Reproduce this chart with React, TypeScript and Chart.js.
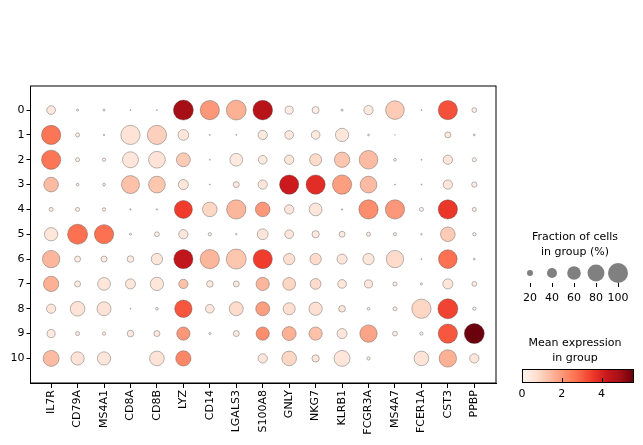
import React, { useEffect, useRef } from "react";
import { Chart, registerables } from "chart.js";

Chart.register(...registerables);

const genes = ["IL7R", "CD79A", "MS4A1", "CD8A", "CD8B", "LYZ", "CD14", "LGALS3", "S100A8", "GNLY", "NKG7", "KLRB1", "FCGR3A", "MS4A7", "FCER1A", "CST3", "PPBP"];
const clusters = ["0", "1", "2", "3", "4", "5", "6", "7", "8", "9", "10"];

// fraction of cells expressing (%), rows = clusters, columns = genes
const fractionPct: number[][] = [
  [33, 5, 5, 2, 2, 100, 95, 99, 98, 30, 25, 5, 36, 91, 2, 95, 15],
  [95, 12, 3, 95, 95, 44, 2, 2, 36, 33, 33, 58, 4, 1, 0, 20, 4],
  [95, 12, 9, 74, 79, 62, 2, 55, 33, 36, 51, 70, 91, 7, 2, 36, 12],
  [66, 7, 7, 87, 79, 40, 2, 20, 36, 95, 95, 95, 79, 2, 2, 36, 17],
  [12, 12, 9, 3, 3, 87, 66, 95, 66, 36, 55, 3, 95, 95, 12, 95, 12],
  [58, 100, 95, 5, 15, 36, 9, 3, 44, 33, 26, 20, 12, 9, 3, 66, 9],
  [83, 20, 20, 23, 47, 95, 95, 100, 95, 47, 47, 40, 47, 83, 2, 91, 4],
  [70, 20, 55, 40, 58, 36, 23, 20, 58, 55, 44, 33, 30, 12, 5, 40, 15],
  [36, 66, 62, 2, 7, 83, 33, 62, 62, 51, 58, 23, 7, 12, 95, 100, 9],
  [30, 12, 9, 23, 20, 58, 5, 20, 58, 62, 58, 40, 83, 15, 9, 95, 100],
  [74, 58, 58, 0, 66, 70, 0, 0, 36, 66, 26, 74, 9, 0, 66, 83, 36],
];

// mean expression in group
const meanExpr: number[][] = [
  [0.4, 0.1, 0.1, 0.1, 0.1, 4.9, 2.0, 1.6, 4.6, 0.3, 0.3, 0.2, 0.4, 1.1, 0.1, 3.2, 0.2],
  [2.6, 0.2, 0.2, 0.6, 1.0, 0.5, 0.1, 0.1, 0.4, 0.4, 0.4, 0.5, 0.3, 0.1, 0.0, 0.4, 0.3],
  [2.6, 0.2, 0.2, 0.5, 0.6, 1.1, 0.1, 0.4, 0.4, 0.5, 0.8, 1.2, 1.4, 0.2, 0.1, 0.5, 0.2],
  [1.4, 0.2, 0.2, 1.3, 1.2, 0.5, 0.1, 0.4, 0.5, 4.2, 3.8, 1.9, 1.4, 0.1, 0.1, 0.5, 0.3],
  [0.3, 0.2, 0.2, 0.1, 0.1, 3.5, 0.9, 1.5, 2.0, 0.5, 0.5, 0.2, 2.2, 2.0, 0.1, 3.6, 0.3],
  [0.5, 2.7, 2.7, 0.2, 0.2, 0.5, 0.2, 0.1, 0.5, 0.5, 0.4, 0.4, 0.3, 0.2, 0.1, 1.1, 0.2],
  [1.5, 0.3, 0.3, 0.3, 0.5, 4.4, 1.5, 1.2, 3.5, 0.7, 0.8, 0.5, 0.5, 0.8, 0.1, 2.7, 0.2],
  [1.6, 0.3, 0.5, 0.5, 0.5, 1.3, 0.4, 0.4, 1.5, 0.9, 0.8, 0.5, 0.5, 0.2, 0.2, 0.5, 0.3],
  [0.5, 0.6, 0.6, 0.1, 0.2, 3.1, 0.5, 0.8, 1.9, 0.7, 0.7, 0.5, 0.2, 0.2, 0.9, 3.4, 0.2],
  [0.4, 0.3, 0.3, 0.4, 0.4, 2.0, 0.2, 0.4, 2.2, 1.6, 1.3, 0.5, 1.8, 0.3, 0.3, 3.1, 5.6],
  [1.4, 0.6, 0.5, 0.0, 0.6, 2.3, 0.0, 0.0, 0.5, 0.9, 0.5, 0.5, 0.3, 0.0, 0.6, 1.6, 0.5],
];

const sizeLegendValues = [20, 40, 60, 80, 100];
const colorbarTicks = [0, 2, 4];
const exprMax = 5.63;

const REDS = ["#fff5f0", "#fee0d2", "#fcbba1", "#fc9272", "#fb6a4a", "#ef3b2c", "#cb181d", "#a50f15", "#67000d"];

function hexToRgb(h: string) {
  return [parseInt(h.slice(1, 3), 16), parseInt(h.slice(3, 5), 16), parseInt(h.slice(5, 7), 16)];
}
function reds(t: number) {
  const tt = Math.max(0, Math.min(1, t)) * (REDS.length - 1);
  const i = Math.min(REDS.length - 2, Math.floor(tt));
  const f = tt - i;
  const a = hexToRgb(REDS[i]);
  const b = hexToRgb(REDS[i + 1]);
  const c = a.map((v, k) => Math.round(v + (b[k] - v) * f));
  return `rgb(${c[0]},${c[1]},${c[2]})`;
}

const MAX_R = 10;
const radiusFor = (pct: number) => MAX_R * Math.pow(pct / 100, 0.75);

const FONT = '"DejaVu Sans", sans-serif';

const legendPlugin = {
  id: "dotLegends",
  afterDraw(chart: any) {
    const ctx = chart.ctx;
    const area = chart.chartArea;
    ctx.save();
    // frame
    ctx.strokeStyle = "#000";
    ctx.lineWidth = 1;
    ctx.strokeRect(area.left, area.top, area.right - area.left, area.bottom - area.top);

    ctx.fillStyle = "#000";
    ctx.font = `11px ${FONT}`;
    ctx.textAlign = "center";
    ctx.textBaseline = "middle";
    const cx = 575;
    ctx.fillText("Fraction of cells", cx, 237);
    ctx.fillText("in group (%)", cx, 252);
    const xs = [530, 552, 574, 596, 618];
    sizeLegendValues.forEach((v, i) => {
      ctx.beginPath();
      ctx.fillStyle = "#808080";
      ctx.arc(xs[i], 273, radiusFor(v), 0, Math.PI * 2);
      ctx.fill();
      ctx.strokeStyle = "#000";
      ctx.lineWidth = 1;
      ctx.beginPath();
      ctx.moveTo(xs[i] + 0.5, 283);
      ctx.lineTo(xs[i] + 0.5, 287);
      ctx.stroke();
      ctx.fillStyle = "#000";
      ctx.fillText(String(v), xs[i], 298);
    });

    // colorbar
    ctx.fillText("Mean expression", cx, 343);
    ctx.fillText("in group", cx, 358);
    const bx0 = 522, bx1 = 634, by0 = 369, by1 = 383;
    const grad = ctx.createLinearGradient(bx0, 0, bx1, 0);
    REDS.forEach((c, i) => grad.addColorStop(i / (REDS.length - 1), c));
    ctx.fillStyle = grad;
    ctx.fillRect(bx0, by0, bx1 - bx0, by1 - by0);
    ctx.strokeStyle = "#000";
    ctx.lineWidth = 1;
    ctx.strokeRect(bx0 + 0.5, by0 + 0.5, bx1 - bx0 - 1, by1 - by0 - 1);
    colorbarTicks.forEach((v) => {
      const x = bx0 + (v / exprMax) * (bx1 - bx0);
      ctx.beginPath();
      ctx.moveTo(Math.round(x) + 0.5, by1);
      ctx.lineTo(Math.round(x) + 0.5, by1 - 5);
      ctx.stroke();
      ctx.fillStyle = "#000";
      ctx.fillText(String(v), x, 394);
    });
    ctx.restore();
  },
};

export default function App() {
  const ref = useRef<HTMLCanvasElement | null>(null);
  useEffect(() => {
    if (!ref.current) return;
    const points: any[] = [];
    const colors: string[] = [];
    clusters.forEach((_, ci) => {
      genes.forEach((_, gi) => {
        points.push({ x: gi, y: ci, r: radiusFor(fractionPct[ci][gi]) });
        colors.push(reds(meanExpr[ci][gi] / exprMax));
      });
    });
    const chart = new Chart(ref.current, {
      type: "bubble",
      data: {
        datasets: [
          {
            data: points,
            backgroundColor: colors,
            borderColor: "rgba(70,70,70,0.55)",
            borderWidth: 0.7,
          },
        ],
      },
      options: {
        responsive: false,
        animation: false,
        events: [],
        layout: { padding: { top: 86, right: 147, left: 0, bottom: 0 } },
        plugins: { legend: { display: false }, tooltip: { enabled: false } },
        scales: {
          x: {
            type: "linear",
            min: -0.78,
            max: 16.82,
            afterBuildTicks: (s: any) => {
              s.ticks = genes.map((_, i) => ({ value: i }));
            },
            afterFit: (s: any) => {
              s.height = 62;
            },
            ticks: {
              autoSkip: false,
              minRotation: 90,
              maxRotation: 90,
              padding: 2,
              color: "#000",
              font: { family: FONT, size: 11 },
              callback: (v: any) => genes[v] ?? "",
            },
            grid: { drawOnChartArea: false, drawTicks: true, tickLength: 5, color: "#000" },
            border: { display: true, color: "#000", width: 1 },
          },
          y: {
            type: "linear",
            reverse: true,
            min: -0.97,
            max: 10.99,
            afterBuildTicks: (s: any) => {
              s.ticks = clusters.map((_, i) => ({ value: i }));
            },
            afterFit: (s: any) => {
              s.width = 30.5;
            },
            ticks: {
              autoSkip: false,
              padding: 2,
              color: "#000",
              font: { family: FONT, size: 11 },
              callback: (v: any) => clusters[v] ?? "",
            },
            grid: { drawOnChartArea: false, drawTicks: true, tickLength: 4, color: "#000" },
            border: { display: true, color: "#000", width: 1 },
          },
        },
      },
      plugins: [legendPlugin],
    });
    return () => chart.destroy();
  }, []);
  return (
    <div style={{ position: "fixed", left: 0, top: 0, width: 643, height: 445, background: "#fff" }}>
      <canvas ref={ref} width={643} height={445} style={{ display: "block" }} />
    </div>
  );
}
